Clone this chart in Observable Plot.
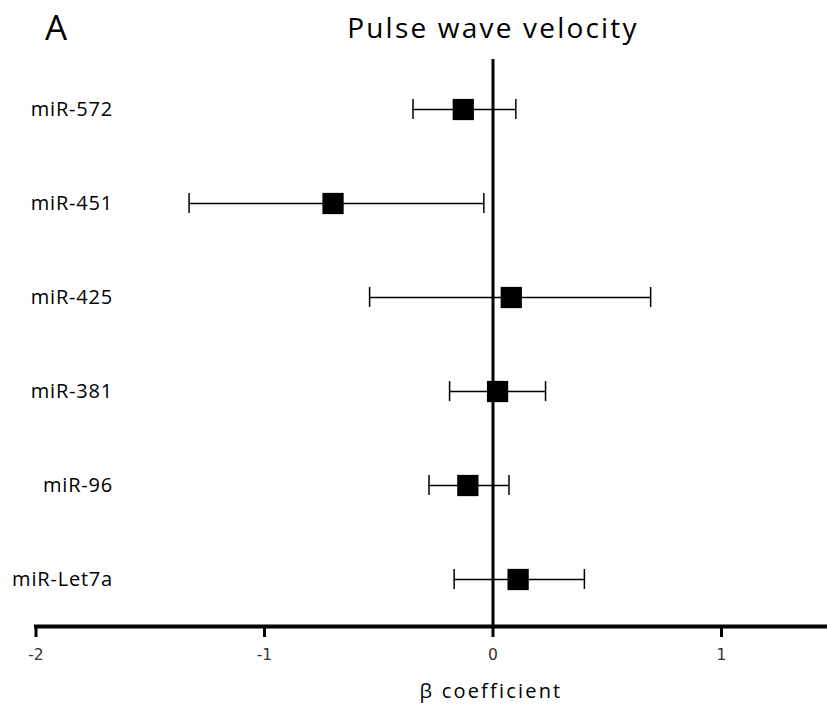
<!DOCTYPE html>
<html>
<head>
<meta charset="utf-8">
<script src="https://cdn.jsdelivr.net/npm/d3@7"></script>
<script src="https://cdn.jsdelivr.net/npm/@observablehq/plot@0.6"></script>
<style>
  html, body { margin: 0; padding: 0; background: #fff; }
  #chart svg { display: block; }
</style>
</head>
<body>
<div id="chart"></div>
<script>
const labels = ["miR-572", "miR-451", "miR-425", "miR-381", "miR-96", "miR-Let7a"];
const beta   = [-0.13, -0.70, 0.08, 0.02, -0.11, 0.11];
const lower  = [-0.35, -1.33, -0.54, -0.19, -0.28, -0.17];
const upper  = [0.10, -0.04, 0.69, 0.23, 0.07, 0.40];
const xTicks = [-2, -1, 0, 1];
const title = "Pulse wave velocity";
const panel = "A";
const xLabel = "β coefficient";

const rows = labels.map((name, i) => ({name, beta: beta[i], lo: lower[i], hi: upper[i]}));
const font = "'Open Sans', sans-serif";

const chart = Plot.plot({
  width: 827,
  height: 713,
  marginLeft: 35.5,
  marginRight: 0,
  marginTop: 61,
  marginBottom: 87,
  style: {background: "#fff", fontFamily: font},
  x: {domain: [-2, 1.464], axis: null},
  y: {type: "band", domain: labels, padding: 0, axis: null},
  marks: [
    Plot.ruleX([0], {stroke: "black", strokeWidth: 3, insetTop: -2}),
    Plot.frame({anchor: "bottom", stroke: "black", strokeWidth: 4}),
    Plot.axisX({ticks: xTicks, tickSize: 11, strokeWidth: 3, stroke: "black", tickPadding: 11,
                fill: "#333", fontSize: 15.5, fontFamily: "'DejaVu Sans', sans-serif", label: null,
                tickFormat: d => String(d)}),
    Plot.axisY({tickSize: 0, tickPadding: -77, fontSize: 20, fill: "black", label: null, fontFamily: font}),
    Plot.ruleY(rows, {y: "name", x1: "lo", x2: "hi", stroke: "black", strokeWidth: 1.5}),
    Plot.tickX(rows, {y: "name", x: "lo", stroke: "black", strokeWidth: 1.5, insetTop: 37, insetBottom: 37}),
    Plot.tickX(rows, {y: "name", x: "hi", stroke: "black", strokeWidth: 1.5, insetTop: 37, insetBottom: 37}),
    Plot.dot(rows, {y: "name", x: "beta", symbol: "square", r: 12, fill: "black", stroke: "none"}),
    Plot.text([title], {x: () => 0, frameAnchor: "top", dy: -43, text: d => d, fontSize: 28, fill: "black", fontFamily: font}),
    Plot.text([panel], {frameAnchor: "top-left", dx: 9, dy: -46, text: d => d, textAnchor: "start", fontSize: 35, fill: "black", fontFamily: font}),
    Plot.text([xLabel], {x: () => 0, frameAnchor: "bottom", dx: -2, dy: 71, text: d => d, fontSize: 20, fill: "black", fontFamily: font})
  ]
});
document.getElementById("chart").appendChild(chart);

// letter spacing to match the wide lettering of the reference
const spacing = new Map([[title, 2.2], [xLabel, 2.2]]);
labels.forEach(l => spacing.set(l, 0.8));
d3.select(chart).selectAll("text").each(function () {
  const t = this.textContent;
  if (spacing.has(t)) this.setAttribute("letter-spacing", spacing.get(t));
});
</script>
</body>
</html>
